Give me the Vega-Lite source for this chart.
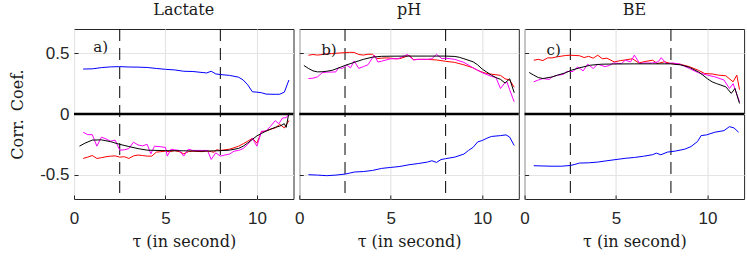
{
"$schema": "https://vega.github.io/schema/vega-lite/v6.json",
"padding": {"left": 9, "top": 1, "right": 5, "bottom": 5},
"background": "white",
"spacing": 5.3,
"bounds": "flush",
"config": {
 "view": {"stroke": "#262626", "strokeWidth": 1},
 "axis": {"grid": true, "gridColor": "#e4e4e4", "gridWidth": 1.2, "domain": false, "ticks": true, "tickSize": -4, "tickColor": "#262626", "labelFont": "Liberation Sans", "labelFontSize": 17, "labelColor": "#262626", "titleFont": "DejaVu Serif", "titleFontSize": 16, "titleFontWeight": "normal", "titleColor": "#1a1a1a"},
 "axisX": {"labelPadding": 15, "titlePadding": 7, "labelFlush": false},
 "axisY": {"labelPadding": 9, "titlePadding": 14},
 "title": {"font": "DejaVu Serif", "fontSize": 16, "fontWeight": "normal", "color": "#1a1a1a", "baseline": "alphabetic", "offset": 11}
},
"datasets": {
 "thr": [{"t": 2.5}, {"t": 8}],
 "zero": [{"v": 0}],
 "labels": [
  {"p": "Lactate", "label": "a)", "t": 1.05, "v": 0.55},
  {"p": "pH", "label": "b)", "t": 1.2, "v": 0.53},
  {"p": "BE", "label": "c)", "t": 1.2, "v": 0.53}
 ],
 "curves": [
  {"p":"Lactate","s":"blue","t":0.5,"v":0.37},{"p":"Lactate","s":"blue","t":1.0,"v":0.372},{"p":"Lactate","s":"blue","t":1.5,"v":0.382},{"p":"Lactate","s":"blue","t":2.0,"v":0.388},{"p":"Lactate","s":"blue","t":2.5,"v":0.39},{"p":"Lactate","s":"blue","t":3.0,"v":0.387},{"p":"Lactate","s":"blue","t":3.5,"v":0.386},{"p":"Lactate","s":"blue","t":4.0,"v":0.383},{"p":"Lactate","s":"blue","t":4.5,"v":0.375},{"p":"Lactate","s":"blue","t":5.0,"v":0.368},{"p":"Lactate","s":"blue","t":5.5,"v":0.363},{"p":"Lactate","s":"blue","t":6.0,"v":0.352},{"p":"Lactate","s":"blue","t":6.5,"v":0.35},{"p":"Lactate","s":"blue","t":7.0,"v":0.342},{"p":"Lactate","s":"blue","t":7.25,"v":0.338},{"p":"Lactate","s":"blue","t":7.5,"v":0.352},{"p":"Lactate","s":"blue","t":7.75,"v":0.33},{"p":"Lactate","s":"blue","t":8.0,"v":0.325},{"p":"Lactate","s":"blue","t":8.5,"v":0.318},{"p":"Lactate","s":"blue","t":9.0,"v":0.303},{"p":"Lactate","s":"blue","t":9.25,"v":0.28},{"p":"Lactate","s":"blue","t":9.5,"v":0.24},{"p":"Lactate","s":"blue","t":9.75,"v":0.183},{"p":"Lactate","s":"blue","t":10.0,"v":0.18},{"p":"Lactate","s":"blue","t":10.25,"v":0.175},{"p":"Lactate","s":"blue","t":10.5,"v":0.164},{"p":"Lactate","s":"blue","t":11.0,"v":0.162},{"p":"Lactate","s":"blue","t":11.25,"v":0.163},{"p":"Lactate","s":"blue","t":11.5,"v":0.18},{"p":"Lactate","s":"blue","t":11.75,"v":0.28},
  {"p":"Lactate","s":"red","t":0.5,"v":-0.366},{"p":"Lactate","s":"red","t":0.75,"v":-0.355},{"p":"Lactate","s":"red","t":1.0,"v":-0.342},{"p":"Lactate","s":"red","t":1.25,"v":-0.366},{"p":"Lactate","s":"red","t":1.5,"v":-0.36},{"p":"Lactate","s":"red","t":1.75,"v":-0.352},{"p":"Lactate","s":"red","t":2.0,"v":-0.347},{"p":"Lactate","s":"red","t":2.25,"v":-0.345},{"p":"Lactate","s":"red","t":2.5,"v":-0.355},{"p":"Lactate","s":"red","t":2.75,"v":-0.352},{"p":"Lactate","s":"red","t":3.0,"v":-0.366},{"p":"Lactate","s":"red","t":3.25,"v":-0.345},{"p":"Lactate","s":"red","t":3.5,"v":-0.338},{"p":"Lactate","s":"red","t":3.75,"v":-0.342},{"p":"Lactate","s":"red","t":4.0,"v":-0.347},{"p":"Lactate","s":"red","t":4.25,"v":-0.347},{"p":"Lactate","s":"red","t":4.5,"v":-0.314},{"p":"Lactate","s":"red","t":4.75,"v":-0.31},{"p":"Lactate","s":"red","t":5.0,"v":-0.306},{"p":"Lactate","s":"red","t":5.25,"v":-0.31},{"p":"Lactate","s":"red","t":5.5,"v":-0.302},{"p":"Lactate","s":"red","t":5.75,"v":-0.31},{"p":"Lactate","s":"red","t":6.0,"v":-0.328},{"p":"Lactate","s":"red","t":6.25,"v":-0.31},{"p":"Lactate","s":"red","t":6.5,"v":-0.306},{"p":"Lactate","s":"red","t":7.0,"v":-0.31},{"p":"Lactate","s":"red","t":7.25,"v":-0.305},{"p":"Lactate","s":"red","t":7.5,"v":-0.31},{"p":"Lactate","s":"red","t":7.65,"v":-0.315},{"p":"Lactate","s":"red","t":7.8,"v":-0.295},{"p":"Lactate","s":"red","t":8.0,"v":-0.3},{"p":"Lactate","s":"red","t":8.25,"v":-0.295},{"p":"Lactate","s":"red","t":8.5,"v":-0.29},{"p":"Lactate","s":"red","t":8.75,"v":-0.278},{"p":"Lactate","s":"red","t":9.0,"v":-0.265},{"p":"Lactate","s":"red","t":9.25,"v":-0.245},{"p":"Lactate","s":"red","t":9.5,"v":-0.224},{"p":"Lactate","s":"red","t":9.75,"v":-0.2},{"p":"Lactate","s":"red","t":10.0,"v":-0.24},{"p":"Lactate","s":"red","t":10.25,"v":-0.147},{"p":"Lactate","s":"red","t":10.5,"v":-0.14},{"p":"Lactate","s":"red","t":10.75,"v":-0.125},{"p":"Lactate","s":"red","t":11.0,"v":-0.115},{"p":"Lactate","s":"red","t":11.25,"v":-0.085},{"p":"Lactate","s":"red","t":11.5,"v":-0.115},{"p":"Lactate","s":"red","t":11.75,"v":-0.054},
  {"p":"Lactate","s":"magenta","t":0.5,"v":-0.15},{"p":"Lactate","s":"magenta","t":0.75,"v":-0.17},{"p":"Lactate","s":"magenta","t":1.0,"v":-0.17},{"p":"Lactate","s":"magenta","t":1.25,"v":-0.265},{"p":"Lactate","s":"magenta","t":1.5,"v":-0.191},{"p":"Lactate","s":"magenta","t":1.75,"v":-0.205},{"p":"Lactate","s":"magenta","t":2.0,"v":-0.224},{"p":"Lactate","s":"magenta","t":2.25,"v":-0.215},{"p":"Lactate","s":"magenta","t":2.5,"v":-0.298},{"p":"Lactate","s":"magenta","t":2.75,"v":-0.295},{"p":"Lactate","s":"magenta","t":3.0,"v":-0.285},{"p":"Lactate","s":"magenta","t":3.25,"v":-0.232},{"p":"Lactate","s":"magenta","t":3.5,"v":-0.255},{"p":"Lactate","s":"magenta","t":3.75,"v":-0.262},{"p":"Lactate","s":"magenta","t":4.0,"v":-0.25},{"p":"Lactate","s":"magenta","t":4.2,"v":-0.328},{"p":"Lactate","s":"magenta","t":4.4,"v":-0.265},{"p":"Lactate","s":"magenta","t":4.75,"v":-0.27},{"p":"Lactate","s":"magenta","t":5.0,"v":-0.275},{"p":"Lactate","s":"magenta","t":5.1,"v":-0.347},{"p":"Lactate","s":"magenta","t":5.3,"v":-0.29},{"p":"Lactate","s":"magenta","t":5.5,"v":-0.295},{"p":"Lactate","s":"magenta","t":5.75,"v":-0.3},{"p":"Lactate","s":"magenta","t":6.0,"v":-0.347},{"p":"Lactate","s":"magenta","t":6.25,"v":-0.29},{"p":"Lactate","s":"magenta","t":6.5,"v":-0.3},{"p":"Lactate","s":"magenta","t":7.0,"v":-0.3},{"p":"Lactate","s":"magenta","t":7.3,"v":-0.3},{"p":"Lactate","s":"magenta","t":7.5,"v":-0.374},{"p":"Lactate","s":"magenta","t":7.75,"v":-0.32},{"p":"Lactate","s":"magenta","t":8.0,"v":-0.347},{"p":"Lactate","s":"magenta","t":8.25,"v":-0.338},{"p":"Lactate","s":"magenta","t":8.5,"v":-0.33},{"p":"Lactate","s":"magenta","t":8.75,"v":-0.306},{"p":"Lactate","s":"magenta","t":9.0,"v":-0.3},{"p":"Lactate","s":"magenta","t":9.25,"v":-0.285},{"p":"Lactate","s":"magenta","t":9.5,"v":-0.25},{"p":"Lactate","s":"magenta","t":9.75,"v":-0.2},{"p":"Lactate","s":"magenta","t":10.0,"v":-0.265},{"p":"Lactate","s":"magenta","t":10.25,"v":-0.142},{"p":"Lactate","s":"magenta","t":10.5,"v":-0.14},{"p":"Lactate","s":"magenta","t":10.75,"v":-0.1},{"p":"Lactate","s":"magenta","t":11.0,"v":-0.055},{"p":"Lactate","s":"magenta","t":11.2,"v":-0.08},{"p":"Lactate","s":"magenta","t":11.4,"v":-0.033},{"p":"Lactate","s":"magenta","t":11.6,"v":-0.03},{"p":"Lactate","s":"magenta","t":11.75,"v":0.0},
  {"p":"Lactate","s":"black","t":0.3,"v":-0.265},{"p":"Lactate","s":"black","t":0.6,"v":-0.24},{"p":"Lactate","s":"black","t":1.0,"v":-0.215},{"p":"Lactate","s":"black","t":1.5,"v":-0.213},{"p":"Lactate","s":"black","t":2.0,"v":-0.228},{"p":"Lactate","s":"black","t":2.5,"v":-0.25},{"p":"Lactate","s":"black","t":3.0,"v":-0.268},{"p":"Lactate","s":"black","t":3.5,"v":-0.285},{"p":"Lactate","s":"black","t":4.0,"v":-0.298},{"p":"Lactate","s":"black","t":5.0,"v":-0.302},{"p":"Lactate","s":"black","t":6.0,"v":-0.303},{"p":"Lactate","s":"black","t":7.0,"v":-0.306},{"p":"Lactate","s":"black","t":8.0,"v":-0.302},{"p":"Lactate","s":"black","t":8.5,"v":-0.298},{"p":"Lactate","s":"black","t":9.0,"v":-0.283},{"p":"Lactate","s":"black","t":9.25,"v":-0.265},{"p":"Lactate","s":"black","t":9.5,"v":-0.238},{"p":"Lactate","s":"black","t":9.75,"v":-0.21},{"p":"Lactate","s":"black","t":10.0,"v":-0.18},{"p":"Lactate","s":"black","t":10.25,"v":-0.16},{"p":"Lactate","s":"black","t":10.5,"v":-0.14},{"p":"Lactate","s":"black","t":11.0,"v":-0.11},{"p":"Lactate","s":"black","t":11.25,"v":-0.1},{"p":"Lactate","s":"black","t":11.5,"v":-0.08},{"p":"Lactate","s":"black","t":11.6,"v":-0.11},{"p":"Lactate","s":"black","t":11.75,"v":0.01},
  {"p":"pH","s":"blue","t":0.5,"v":-0.5},{"p":"pH","s":"blue","t":1.0,"v":-0.503},{"p":"pH","s":"blue","t":1.5,"v":-0.508},{"p":"pH","s":"blue","t":2.0,"v":-0.503},{"p":"pH","s":"blue","t":2.5,"v":-0.495},{"p":"pH","s":"blue","t":2.75,"v":-0.487},{"p":"pH","s":"blue","t":3.0,"v":-0.478},{"p":"pH","s":"blue","t":3.5,"v":-0.474},{"p":"pH","s":"blue","t":4.0,"v":-0.465},{"p":"pH","s":"blue","t":4.5,"v":-0.448},{"p":"pH","s":"blue","t":5.0,"v":-0.44},{"p":"pH","s":"blue","t":5.5,"v":-0.432},{"p":"pH","s":"blue","t":6.0,"v":-0.418},{"p":"pH","s":"blue","t":6.5,"v":-0.408},{"p":"pH","s":"blue","t":7.0,"v":-0.396},{"p":"pH","s":"blue","t":7.25,"v":-0.385},{"p":"pH","s":"blue","t":7.5,"v":-0.399},{"p":"pH","s":"blue","t":7.75,"v":-0.375},{"p":"pH","s":"blue","t":8.0,"v":-0.368},{"p":"pH","s":"blue","t":8.5,"v":-0.355},{"p":"pH","s":"blue","t":9.0,"v":-0.33},{"p":"pH","s":"blue","t":9.25,"v":-0.3},{"p":"pH","s":"blue","t":9.5,"v":-0.275},{"p":"pH","s":"blue","t":9.75,"v":-0.23},{"p":"pH","s":"blue","t":10.0,"v":-0.218},{"p":"pH","s":"blue","t":10.25,"v":-0.2},{"p":"pH","s":"blue","t":10.5,"v":-0.185},{"p":"pH","s":"blue","t":11.0,"v":-0.178},{"p":"pH","s":"blue","t":11.3,"v":-0.172},{"p":"pH","s":"blue","t":11.5,"v":-0.19},{"p":"pH","s":"blue","t":11.75,"v":-0.26},
  {"p":"pH","s":"red","t":0.5,"v":0.484},{"p":"pH","s":"red","t":0.75,"v":0.49},{"p":"pH","s":"red","t":1.0,"v":0.485},{"p":"pH","s":"red","t":1.25,"v":0.49},{"p":"pH","s":"red","t":1.5,"v":0.495},{"p":"pH","s":"red","t":1.75,"v":0.497},{"p":"pH","s":"red","t":2.0,"v":0.5},{"p":"pH","s":"red","t":2.25,"v":0.503},{"p":"pH","s":"red","t":2.5,"v":0.505},{"p":"pH","s":"red","t":2.75,"v":0.508},{"p":"pH","s":"red","t":3.0,"v":0.507},{"p":"pH","s":"red","t":3.25,"v":0.49},{"p":"pH","s":"red","t":3.5,"v":0.485},{"p":"pH","s":"red","t":3.75,"v":0.492},{"p":"pH","s":"red","t":4.0,"v":0.492},{"p":"pH","s":"red","t":4.25,"v":0.456},{"p":"pH","s":"red","t":4.5,"v":0.46},{"p":"pH","s":"red","t":4.75,"v":0.462},{"p":"pH","s":"red","t":5.0,"v":0.46},{"p":"pH","s":"red","t":5.25,"v":0.455},{"p":"pH","s":"red","t":5.5,"v":0.456},{"p":"pH","s":"red","t":5.75,"v":0.468},{"p":"pH","s":"red","t":6.0,"v":0.484},{"p":"pH","s":"red","t":6.25,"v":0.448},{"p":"pH","s":"red","t":6.5,"v":0.45},{"p":"pH","s":"red","t":7.0,"v":0.45},{"p":"pH","s":"red","t":7.5,"v":0.445},{"p":"pH","s":"red","t":8.0,"v":0.434},{"p":"pH","s":"red","t":8.5,"v":0.425},{"p":"pH","s":"red","t":9.0,"v":0.405},{"p":"pH","s":"red","t":9.5,"v":0.38},{"p":"pH","s":"red","t":9.75,"v":0.36},{"p":"pH","s":"red","t":10.0,"v":0.345},{"p":"pH","s":"red","t":10.25,"v":0.333},{"p":"pH","s":"red","t":10.5,"v":0.328},{"p":"pH","s":"red","t":11.0,"v":0.318},{"p":"pH","s":"red","t":11.25,"v":0.29},{"p":"pH","s":"red","t":11.5,"v":0.28},{"p":"pH","s":"red","t":11.75,"v":0.22},
  {"p":"pH","s":"magenta","t":0.5,"v":0.292},{"p":"pH","s":"magenta","t":0.75,"v":0.295},{"p":"pH","s":"magenta","t":1.0,"v":0.306},{"p":"pH","s":"magenta","t":1.25,"v":0.34},{"p":"pH","s":"magenta","t":1.5,"v":0.345},{"p":"pH","s":"magenta","t":1.75,"v":0.345},{"p":"pH","s":"magenta","t":2.0,"v":0.347},{"p":"pH","s":"magenta","t":2.15,"v":0.382},{"p":"pH","s":"magenta","t":2.35,"v":0.375},{"p":"pH","s":"magenta","t":2.6,"v":0.402},{"p":"pH","s":"magenta","t":2.8,"v":0.38},{"p":"pH","s":"magenta","t":3.0,"v":0.437},{"p":"pH","s":"magenta","t":3.25,"v":0.375},{"p":"pH","s":"magenta","t":3.5,"v":0.39},{"p":"pH","s":"magenta","t":3.75,"v":0.405},{"p":"pH","s":"magenta","t":4.1,"v":0.484},{"p":"pH","s":"magenta","t":4.3,"v":0.428},{"p":"pH","s":"magenta","t":4.5,"v":0.435},{"p":"pH","s":"magenta","t":5.0,"v":0.455},{"p":"pH","s":"magenta","t":5.4,"v":0.455},{"p":"pH","s":"magenta","t":5.9,"v":0.49},{"p":"pH","s":"magenta","t":6.25,"v":0.445},{"p":"pH","s":"magenta","t":6.5,"v":0.45},{"p":"pH","s":"magenta","t":7.0,"v":0.45},{"p":"pH","s":"magenta","t":7.25,"v":0.455},{"p":"pH","s":"magenta","t":7.5,"v":0.492},{"p":"pH","s":"magenta","t":7.8,"v":0.455},{"p":"pH","s":"magenta","t":8.0,"v":0.46},{"p":"pH","s":"magenta","t":8.5,"v":0.45},{"p":"pH","s":"magenta","t":9.0,"v":0.425},{"p":"pH","s":"magenta","t":9.5,"v":0.38},{"p":"pH","s":"magenta","t":9.75,"v":0.36},{"p":"pH","s":"magenta","t":10.0,"v":0.34},{"p":"pH","s":"magenta","t":10.5,"v":0.31},{"p":"pH","s":"magenta","t":10.75,"v":0.3},{"p":"pH","s":"magenta","t":11.0,"v":0.21},{"p":"pH","s":"magenta","t":11.2,"v":0.25},{"p":"pH","s":"magenta","t":11.35,"v":0.265},{"p":"pH","s":"magenta","t":11.5,"v":0.2},{"p":"pH","s":"magenta","t":11.75,"v":0.1},
  {"p":"pH","s":"black","t":0.25,"v":0.4},{"p":"pH","s":"black","t":0.5,"v":0.375},{"p":"pH","s":"black","t":0.75,"v":0.355},{"p":"pH","s":"black","t":1.0,"v":0.347},{"p":"pH","s":"black","t":1.25,"v":0.348},{"p":"pH","s":"black","t":1.5,"v":0.352},{"p":"pH","s":"black","t":1.8,"v":0.36},{"p":"pH","s":"black","t":2.25,"v":0.385},{"p":"pH","s":"black","t":2.5,"v":0.4},{"p":"pH","s":"black","t":3.0,"v":0.425},{"p":"pH","s":"black","t":3.5,"v":0.45},{"p":"pH","s":"black","t":4.0,"v":0.468},{"p":"pH","s":"black","t":4.5,"v":0.475},{"p":"pH","s":"black","t":5.0,"v":0.476},{"p":"pH","s":"black","t":6.0,"v":0.477},{"p":"pH","s":"black","t":7.0,"v":0.477},{"p":"pH","s":"black","t":8.0,"v":0.477},{"p":"pH","s":"black","t":8.5,"v":0.474},{"p":"pH","s":"black","t":8.75,"v":0.467},{"p":"pH","s":"black","t":9.0,"v":0.455},{"p":"pH","s":"black","t":9.5,"v":0.43},{"p":"pH","s":"black","t":9.75,"v":0.405},{"p":"pH","s":"black","t":10.0,"v":0.37},{"p":"pH","s":"black","t":10.25,"v":0.345},{"p":"pH","s":"black","t":10.5,"v":0.32},{"p":"pH","s":"black","t":10.75,"v":0.3},{"p":"pH","s":"black","t":11.0,"v":0.285},{"p":"pH","s":"black","t":11.25,"v":0.255},{"p":"pH","s":"black","t":11.5,"v":0.29},{"p":"pH","s":"black","t":11.75,"v":0.175},
  {"p":"BE","s":"blue","t":0.5,"v":-0.426},{"p":"BE","s":"blue","t":1.0,"v":-0.428},{"p":"BE","s":"blue","t":1.5,"v":-0.43},{"p":"BE","s":"blue","t":2.0,"v":-0.43},{"p":"BE","s":"blue","t":2.5,"v":-0.424},{"p":"BE","s":"blue","t":2.75,"v":-0.415},{"p":"BE","s":"blue","t":3.0,"v":-0.404},{"p":"BE","s":"blue","t":3.5,"v":-0.402},{"p":"BE","s":"blue","t":4.0,"v":-0.396},{"p":"BE","s":"blue","t":4.5,"v":-0.385},{"p":"BE","s":"blue","t":5.0,"v":-0.375},{"p":"BE","s":"blue","t":5.5,"v":-0.365},{"p":"BE","s":"blue","t":6.0,"v":-0.358},{"p":"BE","s":"blue","t":6.5,"v":-0.348},{"p":"BE","s":"blue","t":7.0,"v":-0.335},{"p":"BE","s":"blue","t":7.2,"v":-0.322},{"p":"BE","s":"blue","t":7.45,"v":-0.336},{"p":"BE","s":"blue","t":7.8,"v":-0.314},{"p":"BE","s":"blue","t":8.25,"v":-0.305},{"p":"BE","s":"blue","t":8.75,"v":-0.29},{"p":"BE","s":"blue","t":9.1,"v":-0.268},{"p":"BE","s":"blue","t":9.45,"v":-0.227},{"p":"BE","s":"blue","t":9.65,"v":-0.178},{"p":"BE","s":"blue","t":9.95,"v":-0.172},{"p":"BE","s":"blue","t":10.4,"v":-0.15},{"p":"BE","s":"blue","t":10.9,"v":-0.137},{"p":"BE","s":"blue","t":11.2,"v":-0.104},{"p":"BE","s":"blue","t":11.45,"v":-0.115},{"p":"BE","s":"blue","t":11.7,"v":-0.15},
  {"p":"BE","s":"red","t":0.5,"v":0.443},{"p":"BE","s":"red","t":0.75,"v":0.45},{"p":"BE","s":"red","t":1.0,"v":0.44},{"p":"BE","s":"red","t":1.25,"v":0.462},{"p":"BE","s":"red","t":1.5,"v":0.462},{"p":"BE","s":"red","t":1.75,"v":0.47},{"p":"BE","s":"red","t":2.0,"v":0.476},{"p":"BE","s":"red","t":2.25,"v":0.482},{"p":"BE","s":"red","t":2.5,"v":0.484},{"p":"BE","s":"red","t":2.75,"v":0.482},{"p":"BE","s":"red","t":3.0,"v":0.48},{"p":"BE","s":"red","t":3.25,"v":0.465},{"p":"BE","s":"red","t":3.5,"v":0.475},{"p":"BE","s":"red","t":3.75,"v":0.46},{"p":"BE","s":"red","t":4.0,"v":0.484},{"p":"BE","s":"red","t":4.25,"v":0.455},{"p":"BE","s":"red","t":4.5,"v":0.46},{"p":"BE","s":"red","t":4.9,"v":0.429},{"p":"BE","s":"red","t":5.25,"v":0.44},{"p":"BE","s":"red","t":5.5,"v":0.445},{"p":"BE","s":"red","t":5.9,"v":0.455},{"p":"BE","s":"red","t":6.25,"v":0.42},{"p":"BE","s":"red","t":6.5,"v":0.43},{"p":"BE","s":"red","t":7.0,"v":0.443},{"p":"BE","s":"red","t":7.25,"v":0.415},{"p":"BE","s":"red","t":7.65,"v":0.43},{"p":"BE","s":"red","t":8.0,"v":0.415},{"p":"BE","s":"red","t":8.5,"v":0.41},{"p":"BE","s":"red","t":9.0,"v":0.39},{"p":"BE","s":"red","t":9.5,"v":0.36},{"p":"BE","s":"red","t":9.85,"v":0.333},{"p":"BE","s":"red","t":10.25,"v":0.33},{"p":"BE","s":"red","t":10.6,"v":0.32},{"p":"BE","s":"red","t":11.0,"v":0.315},{"p":"BE","s":"red","t":11.4,"v":0.265},{"p":"BE","s":"red","t":11.6,"v":0.32},{"p":"BE","s":"red","t":11.75,"v":0.2},
  {"p":"BE","s":"magenta","t":0.5,"v":0.265},{"p":"BE","s":"magenta","t":0.75,"v":0.28},{"p":"BE","s":"magenta","t":1.0,"v":0.292},{"p":"BE","s":"magenta","t":1.35,"v":0.285},{"p":"BE","s":"magenta","t":1.5,"v":0.305},{"p":"BE","s":"magenta","t":1.8,"v":0.32},{"p":"BE","s":"magenta","t":2.1,"v":0.325},{"p":"BE","s":"magenta","t":2.3,"v":0.35},{"p":"BE","s":"magenta","t":2.65,"v":0.35},{"p":"BE","s":"magenta","t":2.9,"v":0.388},{"p":"BE","s":"magenta","t":3.2,"v":0.355},{"p":"BE","s":"magenta","t":3.45,"v":0.41},{"p":"BE","s":"magenta","t":3.75,"v":0.375},{"p":"BE","s":"magenta","t":4.0,"v":0.41},{"p":"BE","s":"magenta","t":4.4,"v":0.39},{"p":"BE","s":"magenta","t":4.65,"v":0.4},{"p":"BE","s":"magenta","t":4.85,"v":0.42},{"p":"BE","s":"magenta","t":5.3,"v":0.415},{"p":"BE","s":"magenta","t":5.5,"v":0.443},{"p":"BE","s":"magenta","t":5.8,"v":0.43},{"p":"BE","s":"magenta","t":6.0,"v":0.484},{"p":"BE","s":"magenta","t":6.3,"v":0.415},{"p":"BE","s":"magenta","t":6.5,"v":0.42},{"p":"BE","s":"magenta","t":7.0,"v":0.42},{"p":"BE","s":"magenta","t":7.3,"v":0.43},{"p":"BE","s":"magenta","t":7.47,"v":0.464},{"p":"BE","s":"magenta","t":7.75,"v":0.415},{"p":"BE","s":"magenta","t":8.1,"v":0.42},{"p":"BE","s":"magenta","t":8.5,"v":0.41},{"p":"BE","s":"magenta","t":9.0,"v":0.375},{"p":"BE","s":"magenta","t":9.5,"v":0.34},{"p":"BE","s":"magenta","t":10.0,"v":0.32},{"p":"BE","s":"magenta","t":10.4,"v":0.306},{"p":"BE","s":"magenta","t":10.9,"v":0.28},{"p":"BE","s":"magenta","t":11.2,"v":0.21},{"p":"BE","s":"magenta","t":11.4,"v":0.25},{"p":"BE","s":"magenta","t":11.75,"v":0.1},
  {"p":"BE","s":"black","t":0.25,"v":0.342},{"p":"BE","s":"black","t":0.5,"v":0.32},{"p":"BE","s":"black","t":0.75,"v":0.3},{"p":"BE","s":"black","t":1.0,"v":0.292},{"p":"BE","s":"black","t":1.5,"v":0.305},{"p":"BE","s":"black","t":1.8,"v":0.32},{"p":"BE","s":"black","t":2.25,"v":0.34},{"p":"BE","s":"black","t":2.55,"v":0.36},{"p":"BE","s":"black","t":3.0,"v":0.38},{"p":"BE","s":"black","t":3.6,"v":0.402},{"p":"BE","s":"black","t":4.2,"v":0.41},{"p":"BE","s":"black","t":5.0,"v":0.412},{"p":"BE","s":"black","t":6.0,"v":0.413},{"p":"BE","s":"black","t":7.0,"v":0.413},{"p":"BE","s":"black","t":8.0,"v":0.413},{"p":"BE","s":"black","t":8.5,"v":0.405},{"p":"BE","s":"black","t":8.75,"v":0.396},{"p":"BE","s":"black","t":9.0,"v":0.385},{"p":"BE","s":"black","t":9.5,"v":0.347},{"p":"BE","s":"black","t":9.75,"v":0.32},{"p":"BE","s":"black","t":10.0,"v":0.29},{"p":"BE","s":"black","t":10.25,"v":0.265},{"p":"BE","s":"black","t":10.5,"v":0.25},{"p":"BE","s":"black","t":11.0,"v":0.224},{"p":"BE","s":"black","t":11.3,"v":0.17},{"p":"BE","s":"black","t":11.5,"v":0.21},{"p":"BE","s":"black","t":11.75,"v":0.087}
 ]
},
"hconcat": [
 {"width": 219.5, "height": 170, "title": {"text": "Lactate"},
  "layer": [
   {"data": {"name": "thr"}, "mark": {"type": "rule", "strokeDash": [12, 7], "color": "black", "strokeWidth": 1},
    "encoding": {"x": {"field": "t", "type": "quantitative", "scale": {"domain": [0, 12], "nice": false}, "axis": {"title": "τ (in second)", "values": [0, 5, 10]}}}},
   {"data": {"name": "zero"}, "mark": {"type": "rule", "color": "black", "strokeWidth": 2.6},
    "encoding": {"y": {"field": "v", "type": "quantitative", "scale": {"domain": [-0.7, 0.7], "nice": false}, "axis": {"title": "Corr.\u2002Coef.", "values": [-0.5, 0, 0.5], "labelExpr": "datum.value === 0 ? '0' : (datum.value < 0 ? '-' : '') + format(abs(datum.value), '.1f')"}}}},
   {"data": {"name": "curves"}, "transform": [{"filter": "datum.p === 'Lactate'"}], "mark": {"type": "line", "strokeWidth": 1},
    "encoding": {"x": {"field": "t", "type": "quantitative", "scale": {"domain": [0, 12], "nice": false}, "axis": {"title": "τ (in second)", "values": [0, 5, 10]}},
     "y": {"field": "v", "type": "quantitative", "scale": {"domain": [-0.7, 0.7], "nice": false}, "axis": {"title": "Corr.\u2002Coef.", "values": [-0.5, 0, 0.5], "labelExpr": "datum.value === 0 ? '0' : (datum.value < 0 ? '-' : '') + format(abs(datum.value), '.1f')"}},
     "color": {"field": "s", "type": "nominal", "scale": {"domain": ["blue", "red", "magenta", "black"], "range": ["#0000ff", "#ff0000", "#ff00ff", "#000000"]}, "legend": null}}},
   {"data": {"name": "labels"}, "transform": [{"filter": "datum.p === 'Lactate'"}], "mark": {"type": "text", "font": "DejaVu Serif", "fontSize": 15, "align": "left", "baseline": "middle", "color": "#1a1a1a"},
    "encoding": {"x": {"field": "t", "type": "quantitative"}, "y": {"field": "v", "type": "quantitative"}, "text": {"field": "label"}}}
  ]},
 {"width": 219.5, "height": 170, "title": {"text": "pH"},
  "layer": [
   {"data": {"name": "thr"}, "mark": {"type": "rule", "strokeDash": [12, 7], "color": "black", "strokeWidth": 1},
    "encoding": {"x": {"field": "t", "type": "quantitative", "scale": {"domain": [0, 12], "nice": false}, "axis": {"title": "τ (in second)", "values": [0, 5, 10]}}}},
   {"data": {"name": "zero"}, "mark": {"type": "rule", "color": "black", "strokeWidth": 2.6},
    "encoding": {"y": {"field": "v", "type": "quantitative", "scale": {"domain": [-0.7, 0.7], "nice": false}, "axis": {"title": null, "labels": false, "values": [-0.5, 0, 0.5]}}}},
   {"data": {"name": "curves"}, "transform": [{"filter": "datum.p === 'pH'"}], "mark": {"type": "line", "strokeWidth": 1},
    "encoding": {"x": {"field": "t", "type": "quantitative", "scale": {"domain": [0, 12], "nice": false}, "axis": {"title": "τ (in second)", "values": [0, 5, 10]}},
     "y": {"field": "v", "type": "quantitative", "scale": {"domain": [-0.7, 0.7], "nice": false}, "axis": {"title": null, "labels": false, "values": [-0.5, 0, 0.5]}},
     "color": {"field": "s", "type": "nominal", "scale": {"domain": ["blue", "red", "magenta", "black"], "range": ["#0000ff", "#ff0000", "#ff00ff", "#000000"]}, "legend": null}}},
   {"data": {"name": "labels"}, "transform": [{"filter": "datum.p === 'pH'"}], "mark": {"type": "text", "font": "DejaVu Serif", "fontSize": 15, "align": "left", "baseline": "middle", "color": "#1a1a1a"},
    "encoding": {"x": {"field": "t", "type": "quantitative"}, "y": {"field": "v", "type": "quantitative"}, "text": {"field": "label"}}}
  ]},
 {"width": 219.5, "height": 170, "title": {"text": "BE"},
  "layer": [
   {"data": {"name": "thr"}, "mark": {"type": "rule", "strokeDash": [12, 7], "color": "black", "strokeWidth": 1},
    "encoding": {"x": {"field": "t", "type": "quantitative", "scale": {"domain": [0, 12], "nice": false}, "axis": {"title": "τ (in second)", "values": [0, 5, 10]}}}},
   {"data": {"name": "zero"}, "mark": {"type": "rule", "color": "black", "strokeWidth": 2.6},
    "encoding": {"y": {"field": "v", "type": "quantitative", "scale": {"domain": [-0.7, 0.7], "nice": false}, "axis": {"title": null, "labels": false, "values": [-0.5, 0, 0.5]}}}},
   {"data": {"name": "curves"}, "transform": [{"filter": "datum.p === 'BE'"}], "mark": {"type": "line", "strokeWidth": 1},
    "encoding": {"x": {"field": "t", "type": "quantitative", "scale": {"domain": [0, 12], "nice": false}, "axis": {"title": "τ (in second)", "values": [0, 5, 10]}},
     "y": {"field": "v", "type": "quantitative", "scale": {"domain": [-0.7, 0.7], "nice": false}, "axis": {"title": null, "labels": false, "values": [-0.5, 0, 0.5]}},
     "color": {"field": "s", "type": "nominal", "scale": {"domain": ["blue", "red", "magenta", "black"], "range": ["#0000ff", "#ff0000", "#ff00ff", "#000000"]}, "legend": null}}},
   {"data": {"name": "labels"}, "transform": [{"filter": "datum.p === 'BE'"}], "mark": {"type": "text", "font": "DejaVu Serif", "fontSize": 15, "align": "left", "baseline": "middle", "color": "#1a1a1a"},
    "encoding": {"x": {"field": "t", "type": "quantitative"}, "y": {"field": "v", "type": "quantitative"}, "text": {"field": "label"}}}
  ]}
]
}
